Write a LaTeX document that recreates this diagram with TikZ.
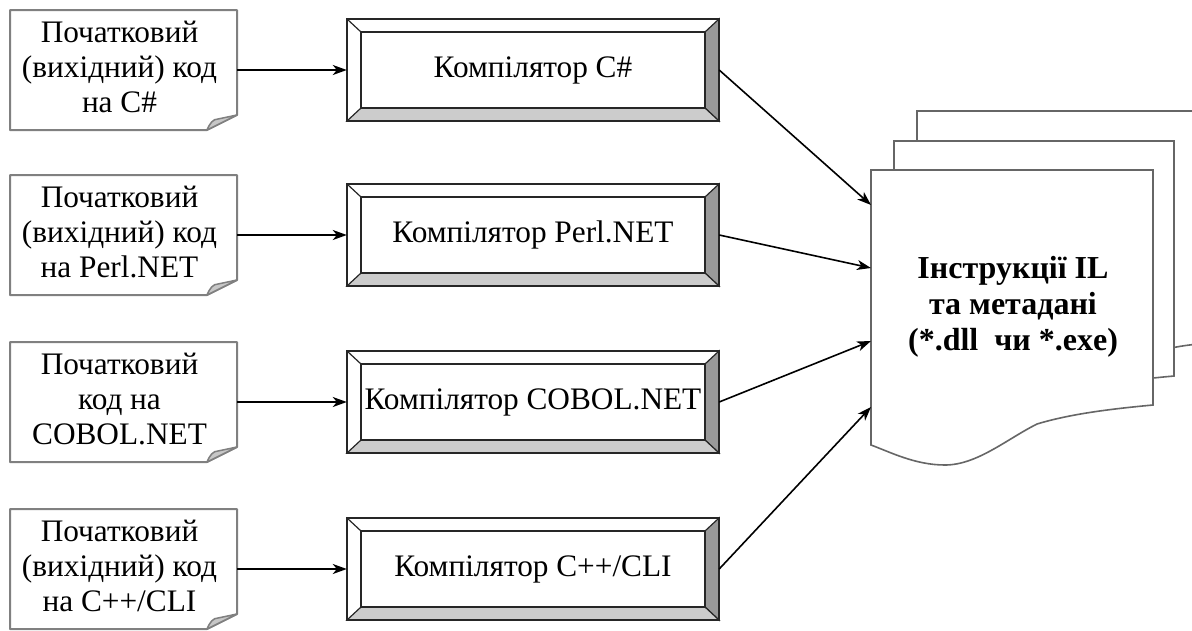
\documentclass[tikz,border=0pt]{standalone}
\usepackage{fontspec}
\setmainfont{Liberation Serif}
\usetikzlibrary{arrows.meta}
\tikzset{
 doctext/.style={minimum width=227pt, minimum height=120pt, inner sep=0pt, align=center, font=\fontsize{31.3}{35}\selectfont},
 docline/.style={draw=black!50, line width=2pt, line join=round, fill=white},
 foldflap/.style={draw=black!50, line width=1.5pt, line join=round, fill=black!22},
 comptext/.style={minimum width=372pt, minimum height=102pt, inner sep=0pt, font=\fontsize{31.3}{35}\selectfont},
 bevel/.style={draw=black!85, line width=1.2pt, line join=miter},
 arr/.style={-{Stealth[length=14pt,width=10pt,inset=4pt]}, line width=1.6pt},
 page/.style={draw=black!60, line width=1.6pt, fill=white, line join=miter},
 iltext/.style={align=center, font=\bfseries\fontsize{32}{36}\selectfont},
}
\newcommand\srcdoc[3]{%
 \draw[docline] (10,#2-60) -- (237,#2-60) -- (237,#2+45) -- (207,#2+60) -- (10,#2+60) -- cycle;
 \filldraw[foldflap] (207,#2+60) .. controls (210,#2+53) and (213,#2+49) .. (218,#2+49) -- (237,#2+45) -- cycle;
 \node[doctext] (#1) at (123.5,#2) {\hspace*{-8pt}\begin{tabular}{@{}c@{}}#3\end{tabular}};
}
\newcommand\compbox[3]{%
 \fill[white] (347,#2-51) rectangle (719,#2+51);
 \filldraw[bevel, fill=black!40] (719,#2-51) -- (719,#2+51) -- (705,#2+38) -- (705,#2-38) -- cycle;
 \filldraw[bevel, fill=black!20] (347,#2+51) -- (719,#2+51) -- (705,#2+38) -- (361,#2+38) -- cycle;
 \draw[bevel] (347,#2-51) -- (361,#2-38);
 \draw[bevel] (361,#2-38) rectangle (705,#2+38);
 \draw[bevel, line width=1.8pt] (347,#2-51) rectangle (719,#2+51);
 \node[comptext] (#1) at (533,#2) {#3};
}
\begin{document}
\begin{tikzpicture}[x=1pt,y=-1pt]
\useasboundingbox[fill=white] (0,0) rectangle (1192,630);

% source documents
\srcdoc{s1}{70}{Початковий\\(вихідний) код\\на C\#}
\srcdoc{s2}{235}{Початковий\\(вихідний) код\\на Perl.NET}
\srcdoc{s3}{402}{Початковий\\код на\\COBOL.NET}
\srcdoc{s4}{569}{Початковий\\(вихідний) код\\на C++/CLI}

% compilers
\compbox{k1}{70}{Компілятор C\#}
\compbox{k2}{235}{Компілятор Perl.NET}
\compbox{k3}{402}{Компілятор COBOL.NET}
\compbox{k4}{569}{Компілятор C++/CLI}

% stack of output pages
\draw[page] (917,111) -- (1215,111) -- (1215,343)
  .. controls (1190,344) and (1170,347) .. (1145,355)
  .. controls (1100,380) and (1040,400) .. (991,400)
  -- (917,400) -- cycle;
\draw[page] (894,141) -- (1174,141) -- (1174,376)
  .. controls (1130,380) and (1090,385) .. (1060,395)
  .. controls (1030,410) and (1000,436) .. (968,436)
  .. controls (938,436) and (913,423) .. (894,416) -- cycle;
\draw[page] (871,170) -- (1153,170) -- (1153,405)
  .. controls (1110,409) and (1070,414) .. (1037,424)
  .. controls (1007,439) and (977,465) .. (945,465)
  .. controls (915,465) and (890,452) .. (871,445) -- cycle;
\node[iltext] (il) at (1013,307) {Інструкції IL\\ та метадані\\(*.dll\ \ чи *.exe)};

\coordinate (in1) at (871,205);
\coordinate (in2) at (871,268);
\coordinate (in3) at (871,341);
\coordinate (in4) at (871,407);

% connectors
\draw[arr] (s1) -- (k1);
\draw[arr] (s2) -- (k2);
\draw[arr] (s3) -- (k3);
\draw[arr] (s4) -- (k4);
\draw[arr] (k1.east) -- (in1);
\draw[arr] (k2.east) -- (in2);
\draw[arr] (k3.east) -- (in3);
\draw[arr] (k4.east) -- (in4);
\end{tikzpicture}
\end{document}
